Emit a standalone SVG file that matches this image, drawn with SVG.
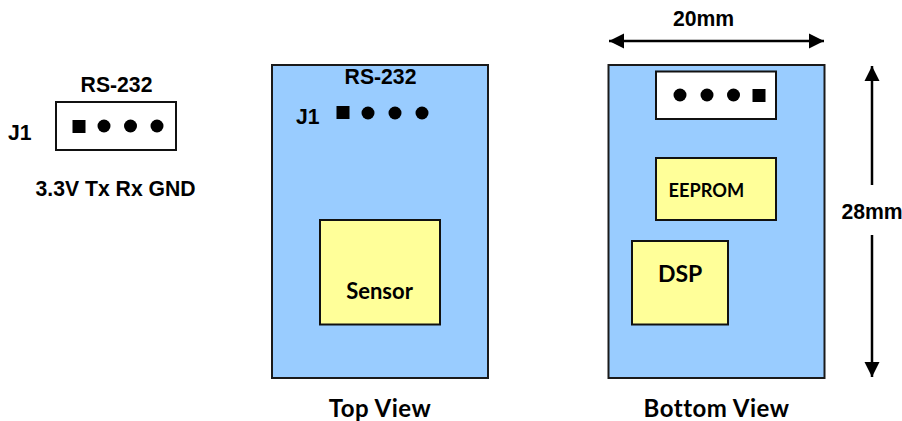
<svg xmlns="http://www.w3.org/2000/svg" width="902" height="421" viewBox="0 0 902 421">
<style>
.pcb{fill:#99ccff;stroke:#1a1a1a;stroke-width:2}
.chip{fill:#ffff99;stroke:#111;stroke-width:2}
.conn{fill:#fff;stroke:#111;stroke-width:2}
.a{font-family:"Liberation Sans",Arial,sans-serif;font-weight:700;fill:#000;font-size:21.200px}
.l{font-family:Lato,"Open Sans",sans-serif;font-weight:700;fill:#000}
.v{font-size:24px;letter-spacing:.5px}
.dim{stroke:#000;stroke-width:2.5;fill:none}
.m{text-anchor:middle}
</style>
<defs><marker id="ah" markerUnits="userSpaceOnUse" markerWidth="16" markerHeight="16" refX="15" refY="8" orient="auto-start-reverse"><path d="M0 0.5L15 8L0 15.5Z" fill="#000"/></marker></defs>
<g id="j1-detail">
<text class="a m" x="116.500" y="92">RS-232</text>
<text class="a" x="8" y="140">J1</text>
<rect class="conn" x="56" y="102" width="120" height="48"/>
<rect x="72.500" y="120" width="13" height="13" fill="#000"/>
<circle cx="104" cy="126" r="6.500"/><circle cx="130.500" cy="126" r="6.500"/><circle cx="157" cy="126" r="6.500"/>
<text class="a" x="35.500" y="196">3.3V Tx Rx GND</text>
</g>
<g id="top-view">
<rect class="pcb" x="272" y="65" width="216" height="313"/>
<text class="a m" x="380.500" y="84">RS-232</text>
<text class="a" x="296" y="124">J1</text>
<rect x="336.500" y="106" width="13" height="13" fill="#000"/>
<circle cx="368" cy="113" r="6.500"/><circle cx="395" cy="113" r="6.500"/><circle cx="422" cy="113" r="6.500"/>
<text class="l v m" x="380" y="417">Top View</text>
</g>
<g id="sensor"><rect class="chip" x="320" y="220" width="120" height="104.500"/><text class="l m" x="379.500" y="299" font-size="22">Sensor</text></g>
<g id="bottom-view">
<rect class="pcb" x="608.500" y="65" width="216" height="313"/>
<rect class="conn" x="656" y="71.500" width="120" height="47.500"/>
<circle cx="680" cy="95" r="6.500"/><circle cx="707" cy="95" r="6.500"/><circle cx="733.500" cy="95" r="6.500"/>
<rect x="752.500" y="89" width="13" height="13" fill="#000"/>
<text class="l v m" x="716.500" y="417">Bottom View</text>
</g>
<g id="eeprom"><rect class="chip" x="656" y="158" width="120" height="62"/><text class="l" x="668.500" y="197" font-size="18.200">EEPROM</text></g>
<g id="dsp"><rect class="chip" x="632" y="241" width="96" height="83.500"/><text class="l" x="658" y="282" font-size="23">DSP</text></g>
<g id="connectors">
<path class="dim" d="M609 41H824" marker-start="url(#ah)" marker-end="url(#ah)"/>
<path class="dim" d="M872 185V66" marker-end="url(#ah)"/>
<path class="dim" d="M872 235V377" marker-end="url(#ah)"/>
</g>
<text class="a m" x="703.500" y="26" id="w-label">20mm</text>
<text class="a m" x="872" y="219" id="h-label">28mm</text>
</svg>
